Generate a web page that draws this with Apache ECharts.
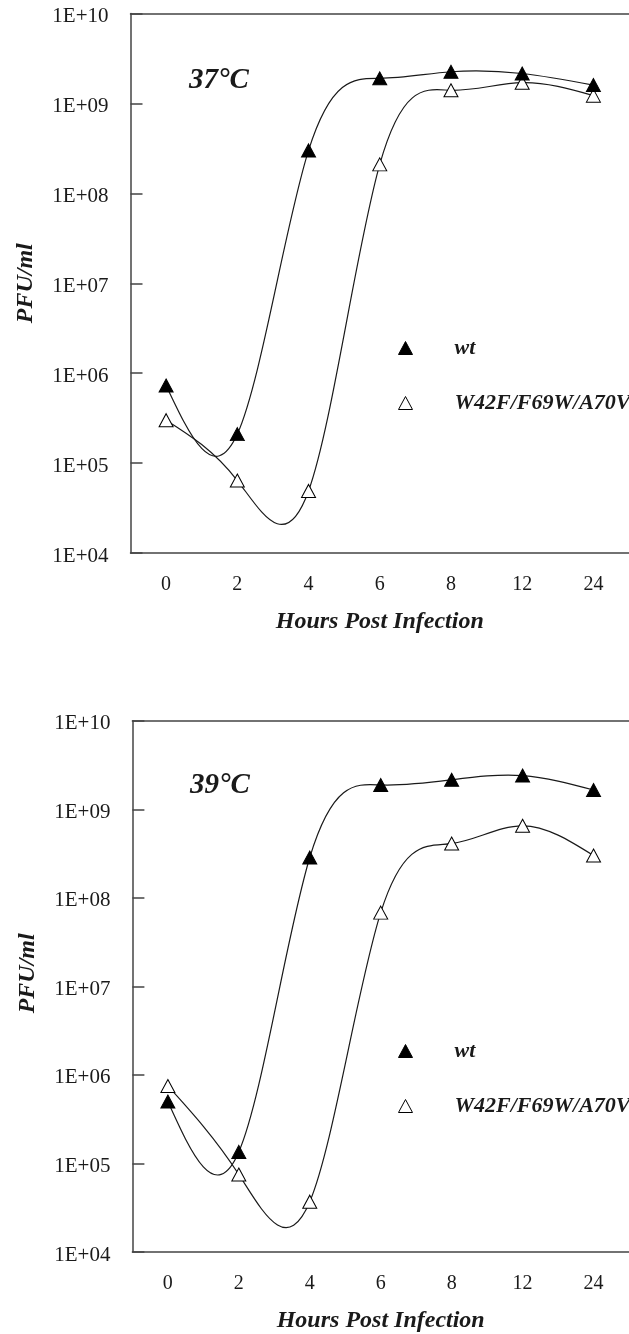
<!DOCTYPE html>
<html>
<head>
<meta charset="utf-8">
<script src="https://cdn.jsdelivr.net/npm/echarts@6/dist/echarts.min.js"></script>
<style>
html,body{margin:0;padding:0;background:#fff;}
#chart{width:629px;height:1334px;}
</style>
</head>
<body>
<div id="chart"></div>
<script>
// ---- data ----
const hours = ['0', '2', '4', '6', '8', '12', '24'];
const wt37 = [7.3e5, 2.1e5, 3.0e8, 1.9e9, 2.25e9, 2.15e9, 1.6e9];
const mut37 = [3.0e5, 6.4e4, 4.9e4, 2.1e8, 1.4e9, 1.7e9, 1.22e9];
const wt39 = [5.0e5, 1.35e5, 2.85e8, 1.88e9, 2.15e9, 2.4e9, 1.65e9];
const mut39 = [7.5e5, 7.5e4, 3.7e4, 6.8e7, 4.1e8, 6.5e8, 3.0e8];
const yTickLabels = ['1E+04', '1E+05', '1E+06', '1E+07', '1E+08', '1E+09', '1E+10'];
const panelTitles = ['37°C', '39°C'];
const seriesNames = ['wt', 'W42F/F69W/A70V'];
const xName = 'Hours Post Infection';
const yName = 'PFU/ml';

const SERIF = '"Liberation Serif", "DejaVu Serif", serif';
const INK = '#1a1a1a';
const AXIS = '#444';

const grids = [
  { left: 130.5, top: 13.5, width: 510, height: 539.5 },
  { left: 132.4, top: 720.7, width: 505, height: 534.6 }
];

function xAxis(i) {
  return {
    type: 'category', gridIndex: i, data: hours, boundaryGap: true,
    axisLine: { lineStyle: { color: AXIS, width: 1.5 } },
    axisTick: { inside: true, length: 12, alignWithLabel: true, lineStyle: { color: AXIS, width: 1.5 } },
    axisLabel: { margin: 22, fontFamily: SERIF, fontSize: 20, color: INK },
    name: xName, nameLocation: 'middle', nameGap: 57,
    nameTextStyle: { fontFamily: SERIF, fontSize: 24, fontWeight: 'bold', fontStyle: 'italic', color: INK },
    splitLine: { show: false }
  };
}
function xAxisTop(i) {
  return {
    type: 'category', gridIndex: i, data: hours, position: 'top',
    axisLine: { show: true, lineStyle: { color: AXIS, width: 1.5 } },
    axisTick: { show: false }, axisLabel: { show: false }, splitLine: { show: false }
  };
}
function yAxis(i) {
  return {
    type: 'log', logBase: 10, gridIndex: i, min: 1e4, max: 1e10,
    axisLine: { show: true, lineStyle: { color: AXIS, width: 1.5 } },
    axisTick: { show: true, inside: true, length: 12, lineStyle: { color: AXIS, width: 1.5 } },
    axisLabel: {
      margin: 22, fontFamily: SERIF, fontSize: 21, color: INK,
      verticalAlign: 'top', lineHeight: 6,
      formatter: v => yTickLabels[Math.round(Math.log10(v)) - 4]
    },
    minorTick: { show: false },
    splitLine: { show: false },
    name: yName, nameLocation: 'middle', nameGap: 93,
    nameTextStyle: {
      fontFamily: SERIF, fontSize: 24, fontWeight: 'bold', fontStyle: 'italic', color: INK,
      padding: i === 1 ? [0, 0, 0, 26] : 0
    }
  };
}

const filledStyle = { color: '#000', borderColor: '#000', borderWidth: 1 };
const hollowStyle = { color: '#fff', borderColor: '#000', borderWidth: 1 };

// markers (and legend entries) — line itself drawn by the spline series below
function markerSeries(name, data, i, style) {
  return {
    type: 'line', name: name, data: data, xAxisIndex: i * 2, yAxisIndex: i,
    symbol: 'triangle', symbolSize: [14, 13], showAllSymbol: true,
    lineStyle: { opacity: 0 },
    itemStyle: style, z: style === filledStyle ? 4 : 3,
    emphasis: { disabled: true }, animation: false
  };
}

// natural cubic spline through the points, computed in pixel space via api.coord
function splinePath(pts) {
  const n = pts.length;
  const xs = pts.map(p => p[0]), ys = pts.map(p => p[1]);
  const h = [];
  for (let i = 0; i < n - 1; i++) h.push(xs[i + 1] - xs[i]);
  const M = new Array(n).fill(0);
  if (n > 2) {
    const a = [], b = [], c = [], d = [];
    for (let i = 1; i < n - 1; i++) {
      a.push(h[i - 1]); b.push(2 * (h[i - 1] + h[i])); c.push(h[i]);
      d.push(6 * ((ys[i + 1] - ys[i]) / h[i] - (ys[i] - ys[i - 1]) / h[i - 1]));
    }
    const m = d.length;
    const cp = new Array(m), dp = new Array(m);
    cp[0] = c[0] / b[0]; dp[0] = d[0] / b[0];
    for (let i = 1; i < m; i++) {
      const den = b[i] - a[i] * cp[i - 1];
      cp[i] = c[i] / den;
      dp[i] = (d[i] - a[i] * dp[i - 1]) / den;
    }
    const sol = new Array(m);
    sol[m - 1] = dp[m - 1];
    for (let i = m - 2; i >= 0; i--) sol[i] = dp[i] - cp[i] * sol[i + 1];
    for (let i = 0; i < m; i++) M[i + 1] = sol[i];
  }
  let path = 'M' + xs[0] + ' ' + ys[0];
  for (let i = 0; i < n - 1; i++) {
    const hi = h[i];
    const s = (ys[i + 1] - ys[i]) / hi;
    const d0 = s - hi * (2 * M[i] + M[i + 1]) / 6;
    const d1 = s + hi * (M[i] + 2 * M[i + 1]) / 6;
    const c1x = xs[i] + hi / 3, c1y = ys[i] + d0 * hi / 3;
    const c2x = xs[i + 1] - hi / 3, c2y = ys[i + 1] - d1 * hi / 3;
    path += ' C' + c1x + ' ' + c1y + ' ' + c2x + ' ' + c2y + ' ' + xs[i + 1] + ' ' + ys[i + 1];
  }
  return path;
}

function curveSeries(values, i) {
  return {
    type: 'custom', xAxisIndex: i * 2, yAxisIndex: i, z: 2, silent: true, animation: false,
    clip: true,
    data: values.map((v, k) => [k, v]),
    renderItem: function (params, api) {
      if (params.dataIndex !== 0) return null;
      const pts = values.map((v, k) => api.coord([k, v]));
      return {
        type: 'path',
        shape: { pathData: splinePath(pts) },
        style: { fill: null, stroke: INK, lineWidth: 1.2 }
      };
    }
  };
}

function legend(top) {
  return {
    orient: 'vertical', left: 393, top: top, itemWidth: 14, itemHeight: 13, itemGap: 33,
    selectedMode: false,
    textStyle: { fontFamily: SERIF, fontSize: 22, fontWeight: 'bold', fontStyle: 'italic', color: INK, padding: [0, 0, 0, 37] },
    data: [
      { name: seriesNames[0], icon: 'triangle', itemStyle: filledStyle },
      { name: seriesNames[1], icon: 'triangle', itemStyle: hollowStyle }
    ]
  };
}

const chart = echarts.init(document.getElementById('chart'), null, { renderer: 'canvas' });
chart.setOption({
  animation: false,
  backgroundColor: '#fff',
  title: [
    { text: panelTitles[0], left: 189, top: 66.5, padding: 0,
      textStyle: { fontFamily: SERIF, fontSize: 29, fontWeight: 'bold', fontStyle: 'italic', color: INK } },
    { text: panelTitles[1], left: 190, top: 771.5, padding: 0,
      textStyle: { fontFamily: SERIF, fontSize: 29, fontWeight: 'bold', fontStyle: 'italic', color: INK } }
  ],
  legend: [legend(332), legend(1035)],
  grid: grids,
  xAxis: [xAxis(0), xAxisTop(0), xAxis(1), xAxisTop(1)],
  yAxis: [yAxis(0), yAxis(1)],
  series: [
    curveSeries(wt37, 0), curveSeries(mut37, 0), curveSeries(wt39, 1), curveSeries(mut39, 1),
    markerSeries(seriesNames[0], wt37, 0, filledStyle),
    markerSeries(seriesNames[1], mut37, 0, hollowStyle),
    markerSeries(seriesNames[0], wt39, 1, filledStyle),
    markerSeries(seriesNames[1], mut39, 1, hollowStyle)
  ]
});
</script>
</body>
</html>
